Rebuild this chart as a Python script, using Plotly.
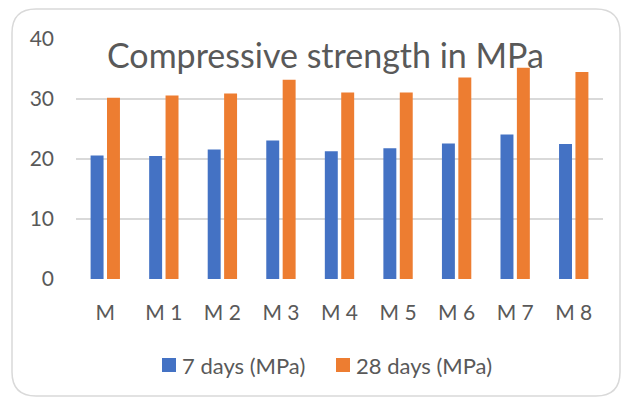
import plotly.graph_objects as go

# Mix designations and measured compressive strengths
mixes = ["M", "M 1", "M 2", "M 3", "M 4", "M 5", "M 6", "M 7", "M 8"]
strength_7d = [20.6, 20.5, 21.6, 23.1, 21.3, 21.8, 22.6, 24.1, 22.5]
strength_28d = [30.2, 30.6, 30.9, 33.2, 31.1, 31.1, 33.6, 35.2, 34.5]
y_ticks = [0, 10, 20, 30, 40]
series_names = ["7 days (MPa)", "28 days (MPa)"]
series_colors = ["#4472C4", "#ED7D31"]

W, H = 622, 398
L, R, T, B = 76, 19, 39, 119
FONT = "Lato"
GREY = "#595959"

fig = go.Figure()
for vals, name, col in zip([strength_7d, strength_28d], series_names, series_colors):
    fig.add_trace(go.Bar(x=mixes, y=vals, name=name,
                         marker=dict(color=col, line=dict(width=0))))

# pixel -> paper coordinate helpers for decorations outside the plot area
pw, ph = W - L - R, H - T - B
def px(x):
    return (x - L) / pw
def py(y):
    return (H - B - y) / ph

# rounded frame around the whole chart
x0, y0, x1, y1, r = 12, 9, 620, 396, 24
frame = (
    f"M {px(x0 + r)},{py(y0)} L {px(x1 - r)},{py(y0)} "
    f"Q {px(x1)},{py(y0)} {px(x1)},{py(y0 + r)} "
    f"L {px(x1)},{py(y1 - r)} Q {px(x1)},{py(y1)} {px(x1 - r)},{py(y1)} "
    f"L {px(x0 + r)},{py(y1)} Q {px(x0)},{py(y1)} {px(x0)},{py(y1 - r)} "
    f"L {px(x0)},{py(y0 + r)} Q {px(x0)},{py(y0)} {px(x0 + r)},{py(y0)} Z"
)
shapes = [dict(type="path", path=frame, xref="paper", yref="paper",
               line=dict(color="#d9d9d9", width=1.5), layer="below")]

annotations = [dict(text="Compressive strength in MPa", x=px(325), y=py(54),
                    xref="paper", yref="paper", showarrow=False,
                    xanchor="center", yanchor="middle",
                    font=dict(size=34, color=GREY, family=FONT))]

# legend row below the axis: colour swatch followed by series name
legend_x = [162, 336]
for lx, name, col in zip(legend_x, series_names, series_colors):
    shapes.append(dict(type="rect", xref="paper", yref="paper",
                       x0=px(lx), x1=px(lx + 14), y0=py(372), y1=py(358),
                       fillcolor=col, line=dict(width=0)))
    annotations.append(dict(text=name, x=px(lx + 18), y=py(365),
                            xref="paper", yref="paper", showarrow=False,
                            xanchor="left", yanchor="middle",
                            font=dict(size=22, color=GREY, family=FONT)))

fig.update_layout(
    width=W, height=H,
    margin=dict(l=L, r=R, t=T, b=B),
    paper_bgcolor="white", plot_bgcolor="white",
    font=dict(family=FONT, color=GREY, size=21),
    barmode="group", bargap=0.44, bargroupgap=0.21,
    showlegend=False,
    shapes=shapes,
    annotations=annotations,
)
fig.update_xaxes(showgrid=False, showline=False, zeroline=False,
                 tickfont=dict(size=21, color=GREY), ticklabelstandoff=19)
fig.update_yaxes(range=[0, 40], tickvals=y_ticks, showline=False, zeroline=False,
                 gridcolor="#d9d9d9", gridwidth=1.5,
                 tickfont=dict(size=21, color=GREY), ticklabelstandoff=21)

fig.write_html("out.html")
